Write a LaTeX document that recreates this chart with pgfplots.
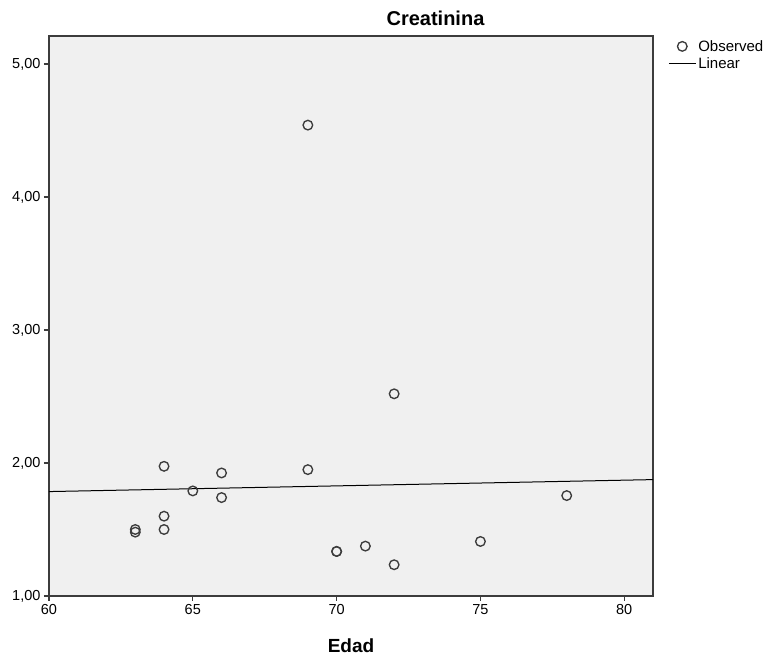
\documentclass[border=0pt]{standalone}
\usepackage{pgfplots}
\pgfplotsset{compat=1.18}
\usepackage{fontspec}
\setmainfont{Liberation Sans}
\definecolor{bgc}{RGB}{240,240,240}
\definecolor{axc}{RGB}{60,60,60}
\definecolor{mkc}{RGB}{60,60,60}
\begin{document}
\begin{tikzpicture}
\useasboundingbox (-49pt,-60pt) rectangle (720pt,596pt);
\begin{axis}[
  scale only axis,
  width=604pt, height=560pt,
  xmin=60, xmax=81, ymin=1, ymax=5.21,
  xtick={60,65,70,75,80},
  ytick={1,2,3,4,5},
  yticklabel style={/pgf/number format/.cd, fixed, fixed zerofill, precision=2, use comma},
  tick align=outside,
  tick pos=left,
  major tick length=5pt,
  tick style={axc, line width=1.2pt},
  axis line style={axc, line width=1.4pt},
  axis background/.style={fill=bgc},
  ticklabel style={font=\fontsize{14.5}{16}\selectfont},
  /pgf/number format/assume math mode=true,
  title={\textbf{Creatinina}},
  title style={at={(0.64,1.02)}, anchor=center, font=\fontsize{20}{22}\selectfont},
  xlabel={\textbf{Edad}},
  xlabel style={at={(axis description cs:0.5,-0.089)}, anchor=center, font=\fontsize{19}{21}\selectfont},
  legend style={draw=none, fill=none, at={(1.02,1.0)}, anchor=north west,
    font=\fontsize{15}{17}\selectfont, row sep=1pt,
    /tikz/every even column/.append style={column sep=2pt}},
  legend cell align=left,
  legend image code/.code={\draw[mark repeat=2,mark phase=2,#1] plot coordinates {(0pt,0pt) (13.5pt,0pt) (27pt,0pt)};},
]
\addplot[only marks, mark=o, mark size=4.8pt, mark options={draw=mkc, line width=1.35pt}] coordinates {
(63,1.50) (63,1.48) (64,1.975) (64,1.60) (64,1.50) (65,1.79) (66,1.925) (66,1.74)
(69,4.54) (69,1.95) (70,1.335) (70,1.335) (71,1.375) (72,2.52) (72,1.235) (75,1.41) (78,1.755)};
\addlegendentry{Observed}
\addplot[black, line width=1pt] coordinates {(60,1.785) (81,1.875)};
\addlegendentry{Linear}
\end{axis}
\end{tikzpicture}
\end{document}
